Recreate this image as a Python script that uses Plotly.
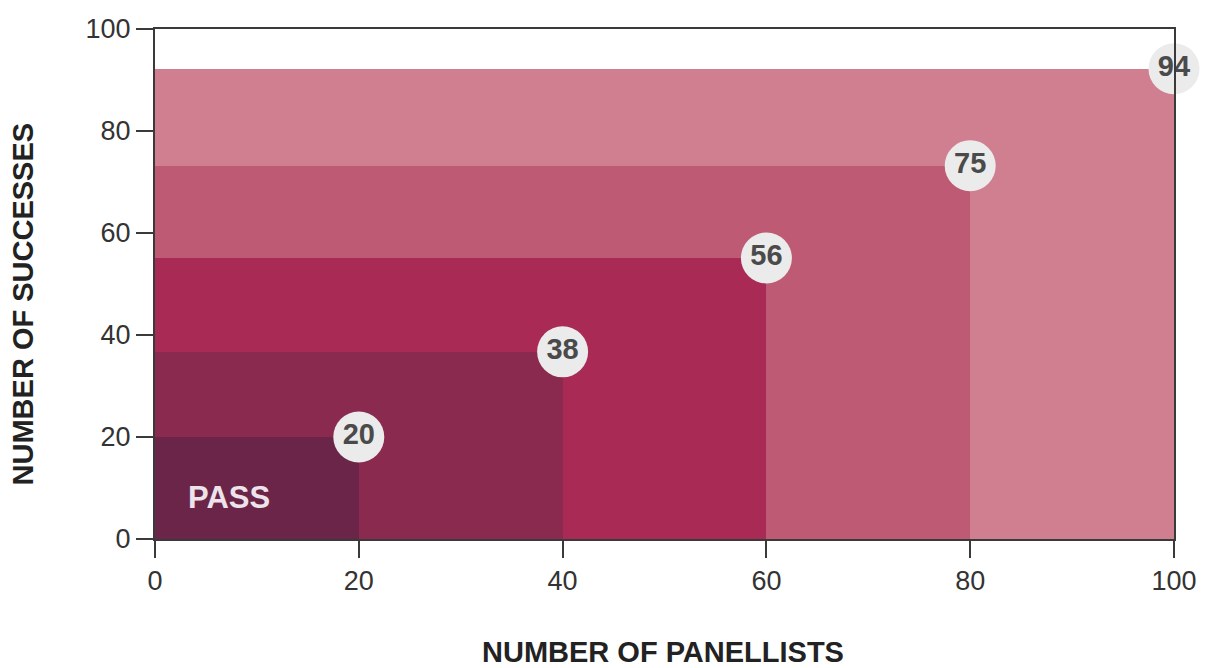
import plotly.graph_objects as go

# Data
panellists = [20, 40, 60, 80, 100]
successes_labels = [20, 38, 56, 75, 94]
rect_heights = [20, 36.7, 55.1, 73.2, 92.2]
colors = ["#6B2548", "#8A2A4E", "#A92A54", "#BE5A73", "#CF7F90"]
x_ticks = [0, 20, 40, 60, 80, 100]
y_ticks = [0, 20, 40, 60, 80, 100]

fig = go.Figure()

# draw largest first
for w, h, c in sorted(zip(panellists, rect_heights, colors), key=lambda t: -t[0]):
    fig.add_trace(go.Bar(
        x=[w / 2], y=[h], width=[w], base=0,
        marker=dict(color=c, line=dict(width=0)),
        showlegend=False, hoverinfo="skip",
    ))

fig.add_trace(go.Scatter(
    x=panellists, y=rect_heights, mode="markers+text",
    text=["<b>%d</b>" % v for v in successes_labels],
    textposition="middle center",
    textfont=dict(family="Liberation Sans, Arial", size=29, color="#4A4A4A"),
    marker=dict(size=51, color="#EBEBEB", line=dict(width=0)),
    cliponaxis=False, showlegend=False, hoverinfo="skip",
))

fig.add_annotation(x=7.3, y=8.1, xref="x", yref="y", text="<b>PASS</b>",
                   showarrow=False, font=dict(family="Liberation Sans, Arial", size=31, color="#EDE3EA"))

fig.add_annotation(x=-0.1295, y=0.46, xref="paper", yref="paper", text="<b>NUMBER OF SUCCESSES</b>",
                   textangle=-90, showarrow=False, xanchor="center", yanchor="middle",
                   font=dict(family="Liberation Sans, Arial", size=29, color="#222222"))
fig.add_annotation(x=0.4985, y=-0.2216, xref="paper", yref="paper", text="<b>NUMBER OF PANELLISTS</b>",
                   showarrow=False, xanchor="center", yanchor="middle",
                   font=dict(family="Liberation Sans, Arial", size=29, color="#222222"))

axis_common = dict(
    showgrid=False, zeroline=False, showline=True, linecolor="#3A3A3A", linewidth=2,
    mirror=True, ticks="outside", ticklen=17, tickwidth=1.5, tickcolor="#3A3A3A",
    tickfont=dict(family="Liberation Sans, Arial", size=27, color="#333333"),
)
fig.update_xaxes(range=[0, 100], tickvals=x_ticks, ticktext=[str(v) for v in x_ticks], **axis_common)
fig.update_yaxes(range=[0, 100], tickvals=y_ticks, ticktext=[str(v) for v in y_ticks], **axis_common)

fig.update_layout(
    width=1209, height=668, barmode="overlay",
    margin=dict(l=155, r=35, t=29, b=129),
    plot_bgcolor="white", paper_bgcolor="white",
    bargap=0,
)

fig.write_html("out.html")
